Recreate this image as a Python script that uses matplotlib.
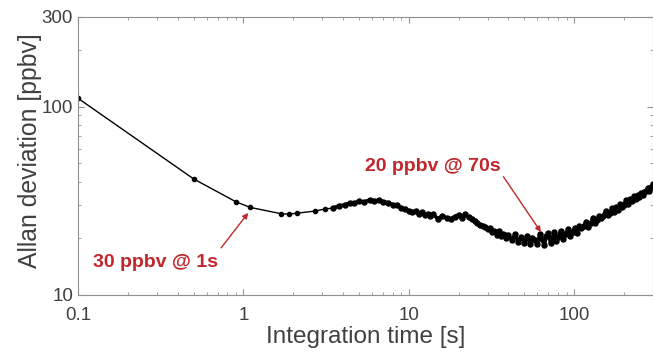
import matplotlib.pyplot as plt

plt.rcParams['font.family'] = ['Liberation Sans', 'DejaVu Sans']

# Allan deviation, sparse part (short integration times)
tau_short = [0.1, 0.5, 0.9, 1.1, 1.7, 1.9, 2.1, 2.7, 3.1]
adev_short = [111, 41.4, 31.3, 29.2, 27.0, 26.9, 27.2, 27.9, 28.6]

# dense, noisy part
tau_long = [3.5, 3.8, 4.1, 4.4, 4.7, 5.0, 5.4, 5.8, 6.2, 6.6,
            7.0, 7.5, 8.0, 8.5, 9.0, 9.5, 10, 10.5, 11, 11.5,
            12, 12.5, 13, 13.5, 14, 15, 16, 17, 18, 19,
            20, 21, 22, 23, 24, 25, 26, 27, 28, 29,
            30, 31, 32, 33, 34, 35, 36, 37, 38, 39,
            40, 42, 44, 46, 48, 50, 52, 54, 56, 58,
            60, 62, 64, 66, 68, 70, 72, 74, 76, 78,
            80, 83, 86, 89, 92, 95, 98, 101, 104, 107,
            110, 114, 118, 122, 126, 130, 134, 138, 142, 146,
            150, 155, 160, 165, 170, 175, 180, 185, 190, 195,
            200, 206, 212, 218, 224, 230, 236, 242, 248, 254,
            260, 266, 272, 278, 284, 290, 296, 300]
adev_long = [29.0, 29.8, 30.1, 30.8, 30.9, 31.4, 31.2, 32.0, 31.6, 31.9,
             31.2, 31.0, 30.2, 29.9, 28.9, 28.6, 28.0, 27.6, 27.9, 26.8,
             27.6, 26.5, 26.9, 26.3, 26.9, 25.4, 26.4, 25.6, 25.4, 26.1,
             26.7, 25.8, 27.0, 25.9, 25.3, 24.8, 24.1, 23.6, 23.2, 23.0,
             22.3, 22.6, 21.6, 21.9, 20.9, 21.9, 20.5, 21.2, 20.9, 20.0,
             20.8, 19.6, 21.0, 19.2, 20.3, 19.0, 20.7, 18.7, 20.2, 19.5,
             18.6, 21.0, 19.8, 18.4, 20.6, 21.4, 18.9, 20.2, 21.6, 19.4,
             20.4, 21.9, 19.8, 21.2, 22.3, 20.7, 21.6, 22.8, 21.3, 23.4,
             22.6, 23.2, 24.4, 23.0, 24.1, 25.6, 24.2, 25.1, 26.3, 25.5,
             26.4, 27.8, 26.6, 27.4, 28.9, 27.5, 29.2, 28.2, 30.4, 29.5,
             30.1, 31.8, 30.4, 32.3, 31.5, 33.4, 32.3, 33.9, 33.2, 35.0,
             33.8, 35.1, 35.6, 36.9, 35.9, 37.6, 37.4, 38.8]

red = '#c0272d'
grey = '#404040'

fig = plt.figure(figsize=(6.53, 3.54), dpi=100)
ax = fig.add_axes([0.1194, 0.1667, 0.8806, 0.7853])

tau = tau_short + tau_long
adev = adev_short + adev_long
ax.plot(tau, adev, color='black', lw=1.0)
ax.plot(tau_short, adev_short, 'o', color='black', ms=3)
ax.plot(tau_long, adev_long, color='black', lw=2.6)
ax.plot(tau_long, adev_long, 'o', color='black', ms=3.6)

ax.set_xscale('log')
ax.set_yscale('log')
ax.set_xlim(0.1, 300)
ax.set_ylim(10, 300)
ax.set_xticks([0.1, 1, 10, 100])
ax.set_xticklabels(['0.1', '1', '10', '100'])
ax.set_yticks([10, 100, 300])
ax.set_yticklabels(['10', '100', '300'])
ax.tick_params(which='both', direction='in', top=True, right=True,
               colors='#909090', labelcolor=grey, labelsize=13.5)
ax.tick_params(which='major', length=4)
ax.tick_params(which='minor', length=2.5)
ax.tick_params(axis='x', pad=8.5)
for s in ax.spines.values():
    s.set_color('#909090')

ax.set_xlabel('Integration time [s]', fontsize=17.5, color=grey)
ax.set_ylabel('Allan deviation [ppbv]', fontsize=17.8, color=grey)
ax.xaxis.set_label_coords(0.5, -0.112)
ax.yaxis.set_label_coords(-0.062, 0.52)

ax.text(0.295, 14.8, '30 ppbv @ 1s', color=red, fontsize=14,
        fontweight='bold', ha='center', va='center')
ax.annotate('', xy=(1.07, 27.3), xytext=(0.734, 17.8),
            arrowprops=dict(arrowstyle='-|>', color=red, lw=1,
                            mutation_scale=8, shrinkA=0, shrinkB=0))
ax.text(14.0, 48, '20 ppbv @ 70s', color=red, fontsize=14,
        fontweight='bold', ha='center', va='center')
ax.annotate('', xy=(63, 21.6), xytext=(37.4, 42.5),
            arrowprops=dict(arrowstyle='-|>', color=red, lw=1,
                            mutation_scale=8, shrinkA=0, shrinkB=0))

fig.savefig('out.png', dpi=100)
